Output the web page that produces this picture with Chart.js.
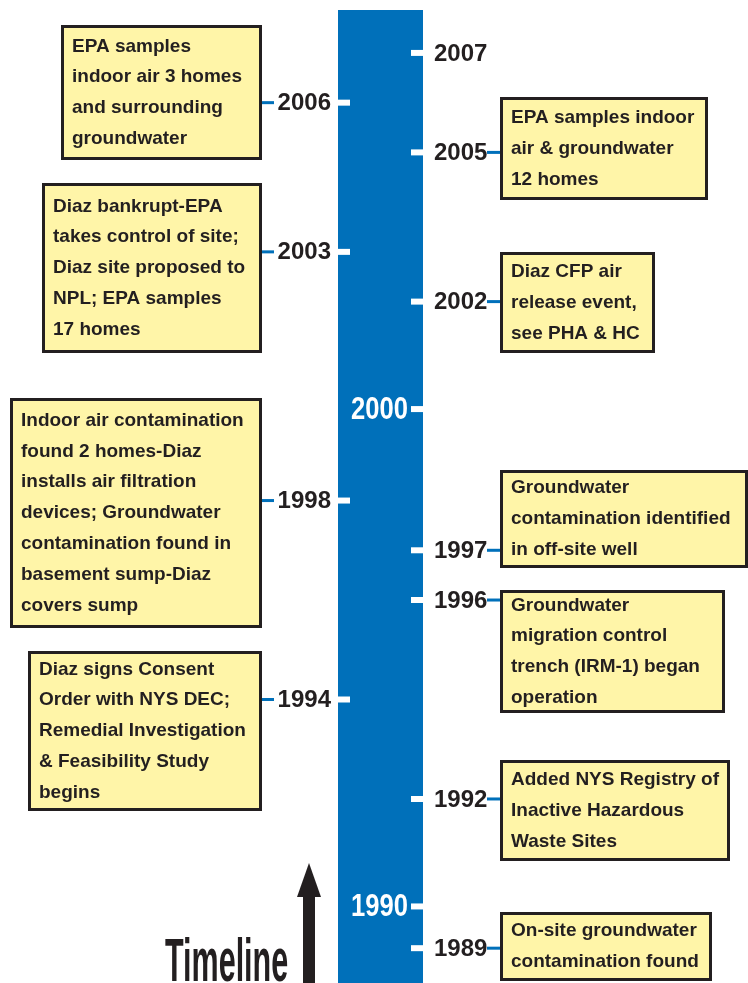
<!DOCTYPE html>
<html>
<head>
<meta charset="utf-8">
<script src="https://cdn.jsdelivr.net/npm/chart.js@4.4.1/dist/chart.umd.min.js"></script>
<style>
    html, body { margin: 0; padding: 0; background: #fff; }
    #wrap { position: relative; width: 748px; height: 983px; }
</style>
</head>
<body>
<div id="wrap"><canvas id="timelineChart"></canvas></div>
<script>
// ---- data ----
const eventYears = [2007, 2006, 2005, 2003, 2002, 1998, 1997, 1996, 1994, 1992, 1989];
const eventSides = ['right', 'left', 'right', 'left', 'right', 'left', 'right', 'right', 'left', 'right', 'right'];
const eventTexts = [
    [],
    ["EPA samples", "indoor air 3 homes", "and surrounding", "groundwater"],
    ["EPA samples indoor", "air & groundwater", "12 homes"],
    ["Diaz bankrupt-EPA", "takes control of site;", "Diaz site proposed to", "NPL; EPA samples", "17 homes"],
    ["Diaz CFP air", "release event,", "see PHA & HC"],
    ["Indoor air contamination", "found 2 homes-Diaz", "installs air filtration", "devices; Groundwater", "contamination found in", "basement sump-Diaz", "covers sump"],
    ["Groundwater", "contamination identified", "in off-site well"],
    ["Groundwater", "migration control", "trench (IRM-1) began", "operation"],
    ["Diaz signs Consent", "Order with NYS DEC;", "Remedial Investigation", "& Feasibility Study", "begins"],
    ["Added NYS Registry of", "Inactive Hazardous", "Waste Sites"],
    ["On-site groundwater", "contamination found"]
];
const decadeYears = [1990, 2000];
const yearMin = 1988.3;
const yearMax = 2008.064;

// ---- layout / style ----
// box placement for each event: [left, top, width, height]
const boxLayout = [
    null,
    [61, 25, 201, 135],
    [500, 97, 208, 103],
    [42, 183, 220, 170],
    [500, 252, 155, 101],
    [10, 398, 252, 230],
    [500, 470, 248, 98],
    [500, 590, 225, 123],
    [28, 651, 234, 160],
    [500, 760, 230, 101],
    [500, 912, 212, 69]
];
const BLUE = '#0070BA';
const INK = '#231F20';
const BOX_FILL = '#FFF5A8';
const barLeft = 338, barRight = 423, barTop = 10;
const tickLen = 12;
const decadeNudge = 8;
const lineGap = 30.8;

const leftTicks = eventYears.filter((y, i) => eventSides[i] === 'left').map(y => ({x: barLeft + tickLen / 2, y: y}));
const rightTicks = eventYears.filter((y, i) => eventSides[i] === 'right').map(y => ({x: barRight - tickLen / 2, y: y}));

const timelinePlugin = {
    id: 'timelineDecor',
    beforeDatasetsDraw(chart) {
        const c = chart.ctx;
        const area = chart.chartArea;
        c.save();
        c.fillStyle = BLUE;
        c.fillRect(barLeft, area.top + barTop, barRight - barLeft, area.bottom - area.top - barTop);
        c.restore();
    },
    afterDatasetsDraw(chart) {
        const c = chart.ctx;
        const ys = chart.scales.y;
        c.save();

        // event year labels, connectors and boxes
        eventYears.forEach((year, i) => {
            const y = ys.getPixelForValue(year);
            const left = eventSides[i] === 'left';
            c.fillStyle = INK;
            c.font = 'bold 24px "Liberation Sans", Arial, sans-serif';
            c.textBaseline = 'middle';
            c.textAlign = left ? 'right' : 'left';
            c.fillText(String(year), left ? 331 : 434, y + 1);

            const box = boxLayout[i];
            if (!box) return;
            c.fillStyle = BLUE;
            if (left) c.fillRect(box[0] + box[2], y - 1.5, 12, 3);
            else c.fillRect(box[0] - 13, y - 1.5, 13, 3);

            c.fillStyle = BOX_FILL;
            c.fillRect(box[0], box[1], box[2], box[3]);
            c.strokeStyle = INK;
            c.lineWidth = 3;
            c.strokeRect(box[0] + 1.5, box[1] + 1.5, box[2] - 3, box[3] - 3);

            // text block centred vertically in its box
            const lines = eventTexts[i];
            const firstY = box[1] + (box[3] - (lines.length - 1) * lineGap) / 2;
            c.fillStyle = INK;
            c.font = 'bold 19px "Liberation Sans", Arial, sans-serif';
            c.textAlign = 'left';
            lines.forEach((line, k) => {
                c.fillText(line, box[0] + 11, firstY + k * lineGap);
            });
        });

        // decade markers inside the bar
        decadeYears.forEach(d => {
            const y = ys.getPixelForValue(d) + decadeNudge;
            c.fillStyle = '#fff';
            c.fillRect(barRight - tickLen, y - 3, tickLen, 6);
            c.save();
            c.translate(408, y);
            c.scale(0.8, 1);
            c.font = 'bold 32px "Liberation Sans", Arial, sans-serif';
            c.textAlign = 'right';
            c.textBaseline = 'middle';
            c.fillText(String(d), 0, 1);
            c.restore();
        });

        // title and arrow
        c.fillStyle = INK;
        c.save();
        c.translate(165, 981);
        c.scale(0.5, 1);
        c.font = 'bold 61px "Liberation Sans", Arial, sans-serif';
        c.textAlign = 'left';
        c.textBaseline = 'alphabetic';
        c.fillText('Timeline', 0, 0);
        c.restore();

        c.fillRect(303, 893, 12, chart.height - 893);
        c.beginPath();
        c.moveTo(309, 863);
        c.lineTo(321, 897);
        c.lineTo(297, 897);
        c.closePath();
        c.fill();

        c.restore();
    }
};

const tickStyle = {
    showLine: false,
    clip: false,
    pointStyle: 'line',
    pointRadius: tickLen / 2,
    pointHoverRadius: tickLen / 2,
    borderWidth: 6,
    pointBorderWidth: 6,
    borderColor: '#ffffff',
    backgroundColor: '#ffffff'
};

new Chart(document.getElementById('timelineChart'), {
    type: 'scatter',
    data: {
        datasets: [
            Object.assign({label: 'left', data: leftTicks}, tickStyle),
            Object.assign({label: 'right', data: rightTicks}, tickStyle)
        ]
    },
    options: {
        responsive: true,
        maintainAspectRatio: false,
        animation: false,
        events: [],
        layout: { padding: 0, autoPadding: false },
        plugins: {
            legend: false,
            tooltip: { enabled: false }
        },
        scales: {
            x: { type: 'linear', min: 0, max: 748, display: false },
            y: { type: 'linear', min: yearMin, max: yearMax, display: false }
        }
    },
    plugins: [timelinePlugin]
});
</script>
</body>
</html>
